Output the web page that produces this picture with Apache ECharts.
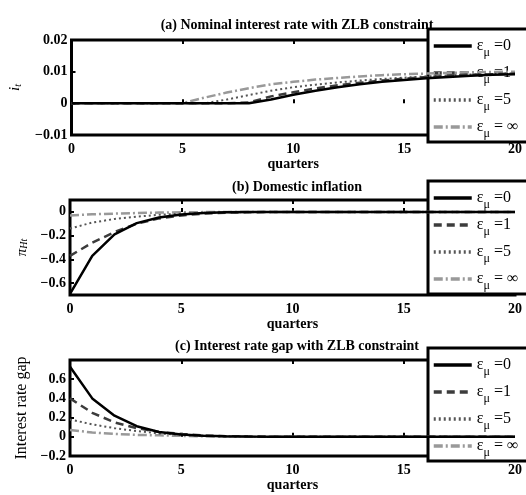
<!DOCTYPE html>
<html>
<head>
<meta charset="utf-8">
<script src="https://cdn.jsdelivr.net/npm/echarts@6/dist/echarts.min.js"></script>
<style>
  html, body { margin: 0; padding: 0; background: #fff; }
  #main { width: 526px; height: 495px; }
</style>
</head>
<body>
<div id="main"></div>
<script>
// quarters on the x axis
const quarters = [0, 1, 2, 3, 4, 5, 6, 7, 8, 9, 10, 11, 12, 13, 14, 15, 16, 17, 18, 19, 20]
const epsLabels = ['=0', '=1', '=5', '= ∞']

// (a) nominal interest rate
const rateEps0 = [0, 0, 0, 0, 0, 0, 0, 0, 0, 0.0012, 0.0027, 0.0040, 0.0051, 0.0060, 0.0068, 0.0074, 0.0079, 0.0083, 0.0087, 0.0090, 0.0092]
const rateEps1 = [0, 0, 0, 0, 0, 0, 0, 0, 0.0003, 0.0022, 0.0035, 0.0047, 0.0057, 0.0065, 0.0072, 0.0078, 0.0083, 0.0087, 0.0090, 0.0092, 0.0094]
const rateEps5 = [0, 0, 0, 0, 0, 0, 0, 0.0012, 0.0026, 0.0040, 0.0051, 0.0059, 0.0066, 0.0072, 0.0077, 0.0081, 0.0085, 0.0088, 0.0091, 0.0093, 0.0095]
const rateEpsInf = [0, 0, 0, 0, 0, 0, 0.0018, 0.0034, 0.0048, 0.0060, 0.0068, 0.0075, 0.0080, 0.0085, 0.0089, 0.0092, 0.0094, 0.0096, 0.0098, 0.0099, 0.0100]

// (b) domestic inflation
const inflEps0 = [-0.69, -0.37, -0.19, -0.095, -0.047, -0.022, -0.010, -0.004, -0.002, -0.001, 0, 0, 0, 0, 0, 0, 0, 0, 0, 0, 0]
const inflEps1 = [-0.37, -0.26, -0.17, -0.10, -0.055, -0.030, -0.015, -0.007, -0.003, -0.001, 0, 0, 0, 0, 0, 0, 0, 0, 0, 0, 0]
const inflEps5 = [-0.14, -0.09, -0.06, -0.04, -0.025, -0.015, -0.008, -0.004, -0.002, -0.001, 0, 0, 0, 0, 0, 0, 0, 0, 0, 0, 0]
const inflEpsInf = [-0.03, -0.02, -0.015, -0.010, -0.006, -0.004, -0.002, -0.001, 0, 0, 0, 0, 0, 0, 0, 0, 0, 0, 0, 0, 0]

// (c) interest rate gap
const gapEps0 = [0.73, 0.40, 0.22, 0.11, 0.05, 0.025, 0.012, 0.006, 0.003, 0.001, 0, 0, 0, 0, 0, 0, 0, 0, 0, 0, 0]
const gapEps1 = [0.40, 0.25, 0.15, 0.09, 0.05, 0.030, 0.015, 0.007, 0.003, 0.001, 0, 0, 0, 0, 0, 0, 0, 0, 0, 0, 0]
const gapEps5 = [0.18, 0.13, 0.09, 0.06, 0.035, 0.020, 0.010, 0.005, 0.002, 0.001, 0, 0, 0, 0, 0, 0, 0, 0, 0, 0, 0]
const gapEpsInf = [0.07, 0.045, 0.03, 0.02, 0.015, 0.010, 0.005, 0.002, 0.001, 0, 0, 0, 0, 0, 0, 0, 0, 0, 0, 0, 0]

// tick labels
const xTicks = [0, 5, 10, 15, 20]
const rateTicks = [-0.01, 0, 0.01, 0.02]
const inflTicks = [-0.6, -0.4, -0.2, 0]
const gapTicks = [-0.2, 0, 0.2, 0.4, 0.6]

const titles = [
  '(a) Nominal interest rate with ZLB constraint',
  '(b) Domestic inflation',
  '(c) Interest rate gap with ZLB constraint'
]

const serif = 'Liberation Serif'
const grids = [
  { left: 70, top: 40, right: 11, height: 95 },
  { left: 70, top: 200, right: 11, height: 95 },
  { left: 70, top: 360, right: 11, height: 96 }
]
const lineStyles = [
  { color: '#000', width: 2.5, type: 'solid' },
  { color: '#3c3c3c', width: 2.5, type: [8, 5] },
  { color: '#555', width: 2, type: [2, 3] },
  { color: '#999', width: 2.5, type: [9, 3, 2, 3] }
]

const fmtNum = v => {
  if (Math.abs(v) < 1e-9) return '0'
  const digits = Math.abs(v) < 0.1 ? 2 : 1
  return (v < 0 ? '−' : '') + Math.abs(v).toFixed(digits)
}

const tickLabel = { fontFamily: serif, fontWeight: 'bold', fontSize: 14, color: '#000' }

const xAxes = []
const yAxes = []
grids.forEach((g, i) => {
  xAxes.push({
    type: 'value', gridIndex: i, min: 0, max: 20,
    axisLabel: { ...tickLabel, margin: 7, customValues: xTicks },
    axisTick: { inside: true, length: 4, lineStyle: { width: 2, color: '#000' }, customValues: xTicks },
    axisLine: { show: false },
    splitLine: { show: false },
    name: 'quarters', nameLocation: 'middle', nameGap: 19,
    nameTextStyle: { fontFamily: serif, fontWeight: 'bold', fontSize: 14, color: '#000' }
  })
  xAxes.push({
    type: 'value', gridIndex: i, min: 0, max: 20, position: 'top',
    axisLabel: { show: false },
    axisTick: { inside: true, length: 4, lineStyle: { width: 2, color: '#000' }, customValues: xTicks },
    axisLine: { show: false },
    splitLine: { show: false }
  })
})

yAxes.push({
  type: 'value', gridIndex: 0, min: -0.01, max: 0.02,
  name: '{i|i}{s|t}', nameLocation: 'middle', nameRotate: 90, nameGap: 48,
  nameTextStyle: {
    rich: {
      i: { fontFamily: serif, fontStyle: 'italic', fontSize: 15, color: '#000' },
      s: { fontFamily: serif, fontStyle: 'italic', fontSize: 10, color: '#000', padding: [6, 0, 0, 0] }
    }
  },
  axisLabel: { ...tickLabel, margin: 4, formatter: fmtNum, customValues: rateTicks },
  axisTick: { inside: true, length: 4, lineStyle: { width: 2, color: '#000' }, customValues: rateTicks },
  axisLine: { show: false }, splitLine: { show: false }
})
yAxes.push({
  type: 'value', gridIndex: 1, min: -0.7, max: 0.1,
  name: '{i|π}{s|Ht}', nameLocation: 'middle', nameRotate: 90, nameGap: 36,
  nameTextStyle: {
    rich: {
      i: { fontFamily: serif, fontStyle: 'italic', fontSize: 15, color: '#000' },
      s: { fontFamily: serif, fontStyle: 'italic', fontSize: 10, color: '#000', padding: [6, 0, 0, 0] }
    }
  },
  axisLabel: { ...tickLabel, margin: 4, formatter: fmtNum, customValues: inflTicks },
  axisTick: { inside: true, length: 4, lineStyle: { width: 2, color: '#000' }, customValues: inflTicks },
  axisLine: { show: false }, splitLine: { show: false }
})
yAxes.push({
  type: 'value', gridIndex: 2, min: -0.2, max: 0.8,
  name: 'Interest rate gap', nameLocation: 'middle', nameRotate: 90, nameGap: 36,
  nameTextStyle: { fontFamily: serif, fontSize: 16, color: '#000' },
  axisLabel: { ...tickLabel, margin: 4, formatter: fmtNum, customValues: gapTicks },
  axisTick: { inside: true, length: 4, lineStyle: { width: 2, color: '#000' }, customValues: gapTicks },
  axisLine: { show: false }, splitLine: { show: false }
})

const panelData = [
  [rateEps0, rateEps1, rateEps5, rateEpsInf],
  [inflEps0, inflEps1, inflEps5, inflEpsInf],
  [gapEps0, gapEps1, gapEps5, gapEpsInf]
]

const series = []
panelData.forEach((panel, p) => {
  panel.forEach((vals, k) => {
    series.push({
      type: 'line',
      name: epsLabels[k],
      xAxisIndex: p * 2,
      yAxisIndex: p,
      symbol: 'none',
      silent: true,
      z: 10 - k,
      itemStyle: { color: lineStyles[k].color },
      lineStyle: lineStyles[k],
      data: quarters.map((q, j) => [q, vals[j]])
    })
  })
})

const legendTops = [29, 181, 348]
const legends = legendTops.map(t => ({
  orient: 'vertical',
  left: 428,
  top: t,
  data: epsLabels,
  backgroundColor: '#fff',
  borderColor: '#000',
  borderWidth: 3,
  borderRadius: 0,
  padding: [9, 30, 2, 4],
  itemWidth: 38,
  itemHeight: 14,
  itemGap: 6,
  selectedMode: false,
  itemStyle: { opacity: 0 },
  lineStyle: { width: 3.5 },
  formatter: name => '{e|ε}{s|μ}{v| ' + name + '}',
  textStyle: {
    rich: {
      e: { fontFamily: serif, fontSize: 16, color: '#000', height: 18 },
      s: { fontFamily: serif, fontSize: 12, color: '#000', padding: [14, 0, 0, 0] },
      v: { fontFamily: serif, fontSize: 16, color: '#000' }
    }
  }
}))

const chart = echarts.init(document.getElementById('main'))
chart.setOption({
  animation: false,
  backgroundColor: '#fff',
  title: titles.map((t, i) => ({
    text: t,
    left: 292,
    textAlign: 'center',
    top: [13, 175, 334][i],
    textStyle: { fontFamily: serif, fontWeight: 'bold', fontSize: 14, color: '#000' }
  })),
  grid: grids.map(g => ({ ...g, show: true, borderColor: '#000', borderWidth: 3, backgroundColor: 'transparent' })),
  xAxis: xAxes,
  yAxis: yAxes,
  legend: legends,
  series: series
})
</script>
</body>
</html>
